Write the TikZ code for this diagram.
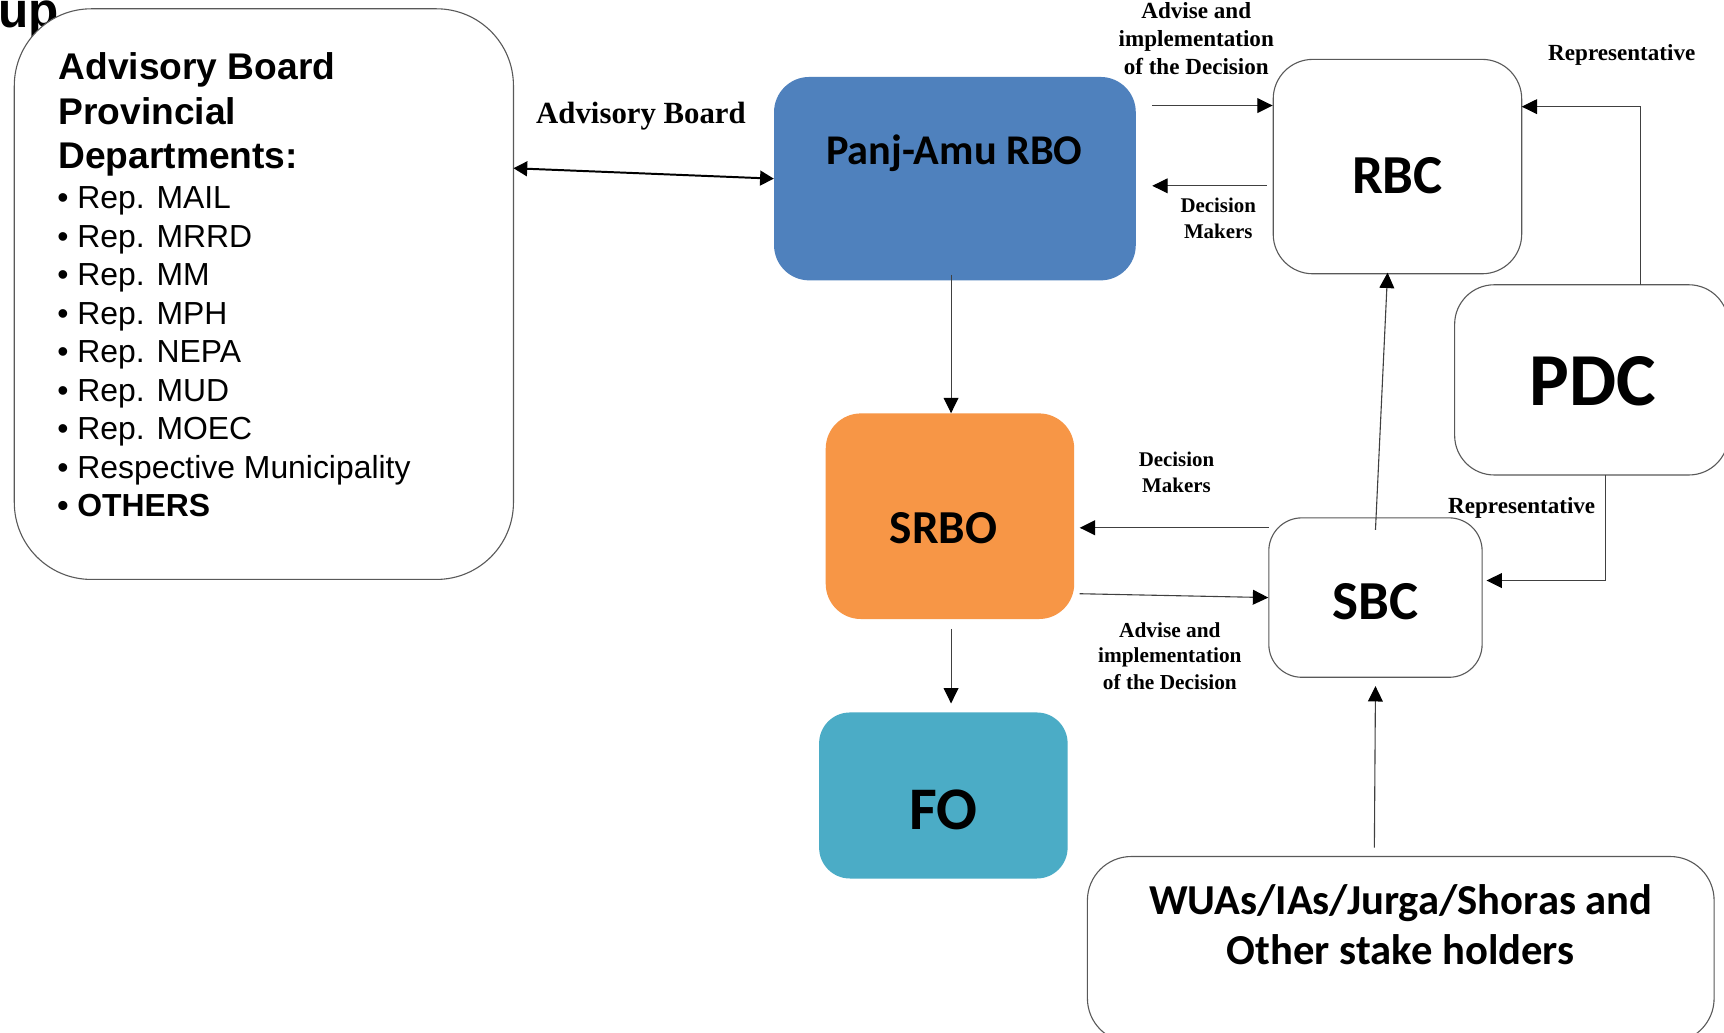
\documentclass[tikz,border=0pt]{standalone}
\usepackage{fontspec}
\setmainfont{Liberation Serif}
\newfontfamily\arialf{Liberation Sans}
\newfontfamily\calib{Carlito}
\newfontfamily\timesf{Liberation Serif}
\usetikzlibrary{arrows.meta}
\definecolor{rboblue}{HTML}{4F81BD}
\definecolor{srboorange}{HTML}{F79646}
\definecolor{foteal}{HTML}{4BACC6}
\definecolor{edgegray}{HTML}{595959}
\begin{document}
\begin{tikzpicture}[x=1pt,y=-1pt,
  box/.style={rectangle, inner sep=0pt, draw=edgegray, line width=1pt, fill=white},
  cbox/.style={rectangle, inner sep=0pt, draw=none},
  lbl/.style={inner sep=0pt, anchor=base},
  boxtxt/.style={lbl, font=\calib\bfseries},
  elbl/.style={lbl, font=\timesf\bfseries},
  arr/.style={draw=black!75, line width=1pt, -{Triangle[length=14pt,width=13.5pt,color=black]}},
  dblarr/.style={draw=black, line width=1.8pt, {Triangle[length=12.5pt,width=13.5pt]}-{Triangle[length=12.5pt,width=13.5pt]}},
]
\useasboundingbox (0,0) rectangle (1568,939);
\fill[white] (0,0) rectangle (1568,939);

% title fragment
\node[lbl, anchor=base west, font=\arialf\bfseries\fontsize{45}{45}\selectfont] (upt) at (-2,25) {up};

% boxes
\node[box, rounded corners=70pt, minimum width=454pt, minimum height=519pt] (adv) at (240,267.5) {};
\node[cbox, fill=rboblue, rounded corners=32pt, minimum width=329pt, minimum height=185pt] (rbo) at (868.5,162.5) {};
\node[cbox, fill=srboorange, rounded corners=32pt, minimum width=226pt, minimum height=187pt] (srbo) at (864,469.5) {};
\node[cbox, fill=foteal, rounded corners=28pt, minimum width=226pt, minimum height=151pt] (fo) at (858,723.5) {};
\node[box, rounded corners=36pt, minimum width=226pt, minimum height=195pt] (rbc) at (1271,151.5) {};
\node[box, rounded corners=36pt, minimum width=249pt, minimum height=173pt] (pdc) at (1447.5,345.5) {};
\node[box, rounded corners=30pt, minimum width=194pt, minimum height=145pt] (sbc) at (1251,543.5) {};
\node[box, rounded corners=40pt, minimum width=570pt, minimum height=169pt] (wua) at (1274,863.5) {};

% box texts
\node[boxtxt, font=\calib\bfseries\fontsize{38.5}{46}\selectfont] (rbot) at (868,149.5) {Panj-Amu RBO};
\node[boxtxt, font=\calib\bfseries\fontsize{50}{60}\selectfont] (rbct) at (1271,176) {RBC};
\node[boxtxt, font=\calib\bfseries\fontsize{68}{80}\selectfont] (pdct) at (1449,369) {PDC};
\node[boxtxt, font=\calib\bfseries\fontsize{43}{50}\selectfont] (srbot) at (858,494) {SRBO};
\node[boxtxt, font=\calib\bfseries\fontsize{55}{64}\selectfont] (fot) at (858,754.5) {FO};
\node[boxtxt, font=\calib\bfseries\fontsize{50}{60}\selectfont] (sbct) at (1251,563) {SBC};
\node[boxtxt, font=\calib\bfseries\fontsize{38.8}{46}\selectfont] (wuat1) at (1274,831.5) {WUAs/IAs/Jurga/Shoras and};
\node[boxtxt, font=\calib\bfseries\fontsize{38.8}{46}\selectfont] (wuat2) at (1274,877.5) {Other stake holders};

% advisory board list
\begin{scope}[every node/.style={lbl, anchor=base west, font=\arialf\bfseries\fontsize{33.8}{40}\selectfont}]
\node (h1) at (53,72) {Advisory Board};
\node (h2) at (53,113) {Provincial};
\node (h3) at (53,153) {Departments:};
\end{scope}
\begin{scope}[every node/.style={lbl, anchor=base west, font=\arialf\fontsize{29}{35}\selectfont}]
\node (i1) at (52,190) {• Rep. MAIL};
\node (i2) at (52,225) {• Rep. MRRD};
\node (i3) at (52,260) {• Rep. MM};
\node (i4) at (52,295) {• Rep. MPH};
\node (i5) at (52,330) {• Rep. NEPA};
\node (i6) at (52,365) {• Rep. MUD};
\node (i7) at (52,400) {• Rep. MOEC};
\node (i8) at (52,435) {• Respective Municipality};
\node[font=\arialf\bfseries\fontsize{29}{35}\selectfont] (i9) at (52,470) {• OTHERS};
\end{scope}

% edge labels
\node[elbl, font=\timesf\bfseries\fontsize{28}{34}\selectfont] (lab) at (583,112) {Advisory Board};
\begin{scope}[every node/.style={elbl, font=\timesf\bfseries\fontsize{21}{25.5}\selectfont}]
\node (ta1) at (1088,17) {Advise and};
\node (ta2) at (1088,42) {implementation};
\node (ta3) at (1088,68) {of the Decision};
\node (rep1) at (1475,55) {Representative};
\node (rep2) at (1384,467) {Representative};
\end{scope}
\begin{scope}[every node/.style={elbl, font=\timesf\bfseries\fontsize{19}{23}\selectfont}]
\node (td1) at (1108,193.5) {Decision};
\node (td2) at (1108,216.5) {Makers};
\node (sd1) at (1070,424.5) {Decision};
\node (sd2) at (1070,447.5) {Makers};
\end{scope}
\begin{scope}[every node/.style={elbl, font=\timesf\bfseries\fontsize{19.4}{23.5}\selectfont}]
\node (sa1) at (1064,580) {Advise and};
\node (sa2) at (1064,603) {implementation};
\node (sa3) at (1064,627) {of the Decision};
\end{scope}

% connector end points
\coordinate (dA) at (467,153);
\coordinate (v1) at (865,250);
\coordinate (v2) at (865,572);
\coordinate (ha) at (1048,96);
\coordinate (hd) at (1152,169);
\coordinate (hdE) at (1048,169);
\coordinate (p1) at (1492,259);
\coordinate (r1) at (1384,97);
\coordinate (p2) at (1460,432);
\coordinate (s1) at (1352,528);
\coordinate (sb1) at (1251,482);
\coordinate (rb1) at (1262,248);
\coordinate (sd) at (1154,480);
\coordinate (sdE) at (982,480);
\coordinate (sa) at (982,540);
\coordinate (w1) at (1250,771);
\coordinate (sbB) at (1251,624);

% connectors
\draw[dblarr] (dA) -- (rbo.west);
\draw[arr] (v1) -- (v1 |- srbo.north);
\draw[arr, shorten >=8pt] (v2) -- (v2 |- fo.north);
\draw[arr] (ha) -- (ha -| rbc.west);
\draw[arr] (hd) -- (hdE);
\draw[arr] (p1) |- (r1);
\draw[arr] (p2) |- (s1);
\draw[arr] (sb1) -- (rb1);
\draw[arr] (sd) -- (sdE);
\draw[arr] (sa) -- (sbc.west);
\draw[arr] (w1) -- (sbB);
\end{tikzpicture}
\end{document}
